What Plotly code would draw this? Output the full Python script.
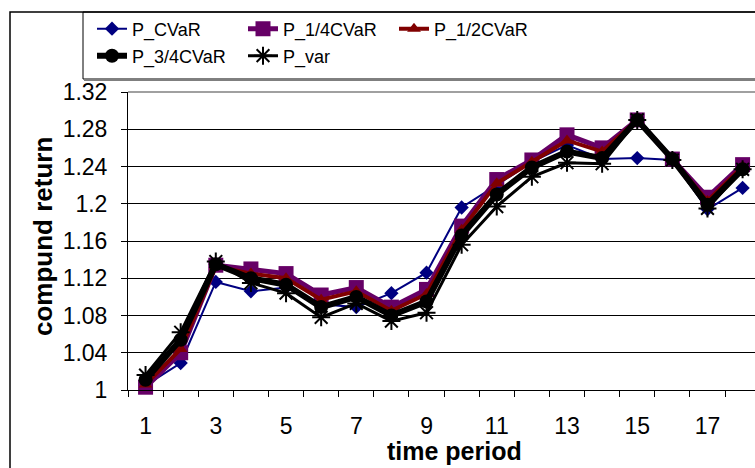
import plotly.graph_objects as go

periods = list(range(1, 19))
p_cvar = [1.005, 1.029, 1.116, 1.106, 1.110, 1.092, 1.089, 1.104, 1.126, 1.196,
          1.220, 1.245, 1.263, 1.248, 1.249, 1.247, 1.194, 1.217]
p_q1 = [1.003, 1.040, 1.134, 1.130, 1.125, 1.102, 1.110, 1.089, 1.108, 1.176,
        1.226, 1.247, 1.274, 1.260, 1.290, 1.248, 1.207, 1.242]
p_q2 = [1.006, 1.044, 1.133, 1.125, 1.120, 1.097, 1.106, 1.085, 1.103, 1.172,
        1.222, 1.245, 1.268, 1.256, 1.290, 1.248, 1.203, 1.240]
p_q3 = [1.011, 1.054, 1.135, 1.120, 1.113, 1.089, 1.100, 1.080, 1.095, 1.166,
        1.210, 1.239, 1.256, 1.249, 1.290, 1.248, 1.199, 1.237]
p_var = [1.016, 1.062, 1.138, 1.115, 1.104, 1.078, 1.093, 1.074, 1.083, 1.156,
         1.197, 1.229, 1.244, 1.243, 1.290, 1.247, 1.195, 1.237]

x_tick_vals = [1, 3, 5, 7, 9, 11, 13, 15, 17]
y_tick_vals = [1.0, 1.04, 1.08, 1.12, 1.16, 1.2, 1.24, 1.28, 1.32]
y_tick_text = ["1", "1.04", "1.08", "1.12", "1.16", "1.2", "1.24", "1.28", "1.32"]

W, H = 755, 468
L, T, B = 128, 92, 78
PW = W - L
PH = H - T - B


def px(xp):
    return (xp - L) / PW


def py(yp):
    return (H - B - yp) / PH


FONT = "Liberation Sans, Arial, sans-serif"

fig = go.Figure()
series = [
    ("P_CVaR", p_cvar, "#000080", 2, "diamond", 11, "legend"),
    ("P_1/4CVaR", p_q1, "#660066", 5, "square", 15, "legend"),
    ("P_1/2CVaR", p_q2, "#800000", 4, "triangle-up", 12, "legend"),
    ("P_3/4CVaR", p_q3, "#000000", 6, "circle", 14, "legend2"),
]
for name, vals, col, lw, sym, ms, lg in series:
    fig.add_trace(go.Scatter(
        x=periods, y=vals, name=name, mode="lines+markers",
        line=dict(color=col, width=lw),
        marker=dict(symbol=sym, size=ms, color=col),
        cliponaxis=False, legend=lg,
    ))
fig.add_trace(go.Scatter(
    x=periods, y=p_var, name="P_var", mode="lines+markers",
    line=dict(color="#000000", width=3),
    marker=dict(symbol="asterisk-open", size=15, color="#000000",
                line=dict(color="#000000", width=2)),
    cliponaxis=False, legend="legend2",
))

fig.update_layout(
    width=W, height=H,
    margin=dict(l=L, r=0, t=T, b=B, autoexpand=False),
    paper_bgcolor="white", plot_bgcolor="white",
    font=dict(family=FONT, color="black", size=20),
    xaxis=dict(
        range=[0.5, 0.5 + PW / 35.12], showgrid=False, zeroline=False,
        showline=True, linecolor="black", linewidth=1,
        tickmode="array", tickvals=x_tick_vals, ticks="",
        ticklabelstandoff=15, tickfont=dict(size=23, family=FONT),
        minor=dict(tickmode="array", tickvals=[i + 0.5 for i in range(0, 18)],
                   ticks="outside", ticklen=6, tickcolor="black", tickwidth=1,
                   showgrid=False),
    ),
    yaxis=dict(
        range=[1.0, 1.32], showgrid=True, gridcolor="black", gridwidth=1,
        zeroline=False, showline=True, linecolor="black", linewidth=1,
        tickmode="array", tickvals=y_tick_vals, ticktext=y_tick_text,
        ticks="outside", ticklen=6, tickcolor="black",
        ticklabelstandoff=9, tickfont=dict(size=23, family=FONT),
    ),
    legend=dict(
        orientation="h", x=px(92), xanchor="left", y=py(29), yanchor="middle",
        entrywidth=106, entrywidthmode="pixels", bgcolor="rgba(0,0,0,0)",
        font=dict(size=18, family=FONT), borderwidth=0,
    ),
    legend2=dict(
        orientation="h", x=px(92), xanchor="left", y=py(56), yanchor="middle",
        entrywidth=106, entrywidthmode="pixels", bgcolor="rgba(0,0,0,0)",
        font=dict(size=18, family=FONT), borderwidth=0,
    ),
    shapes=[
        dict(type="rect", xref="paper", yref="paper",
             x0=px(10), x1=1.3, y0=-1.0, y1=py(12),
             line=dict(color="black", width=1.5), layer="below"),
        dict(type="rect", xref="paper", yref="paper",
             x0=px(83), x1=1.3, y0=py(79), y1=py(12),
             line=dict(color="black", width=1), layer="below"),
        dict(type="line", xref="paper", yref="paper",
             x0=px(84), x1=1.3, y0=py(80), y1=py(80),
             line=dict(color="#7f7f7f", width=2)),
        dict(type="line", xref="paper", yref="paper",
             x0=0, x1=1, y0=1, y1=1,
             line=dict(color="#808080", width=1.5)),
    ],
    annotations=[
        dict(text="<b>compund return</b>", xref="paper", yref="paper",
             x=px(43), y=py(237), xanchor="center", yanchor="middle",
             textangle=-90, showarrow=False, font=dict(size=26, family=FONT)),
        dict(text="<b>time period</b>", xref="paper", yref="paper",
             x=px(454), y=py(451), xanchor="center", yanchor="middle",
             showarrow=False, font=dict(size=25, family=FONT)),
    ],
)

fig.write_html(
    "out.html",
    config={"displayModeBar": False},
    post_script="document.body.style.margin='0';document.body.style.overflow='hidden';",
)
